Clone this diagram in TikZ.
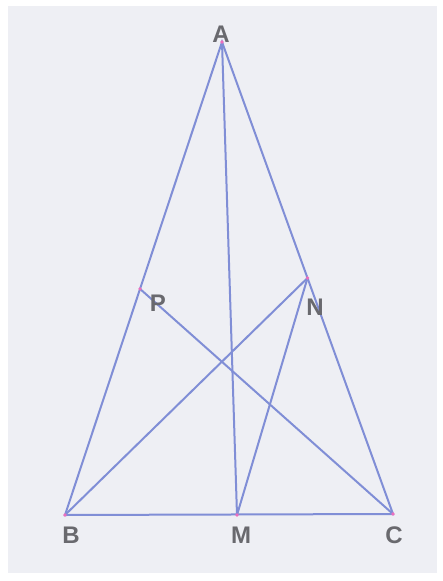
\documentclass[tikz,border=0pt]{standalone}
\usepackage{fontspec}
\setmainfont{Liberation Sans}
\usepackage{xcolor}
\usetikzlibrary{calc}

\definecolor{segblue}{RGB}{128,142,214}
\definecolor{dotpink}{RGB}{236,110,190}
\definecolor{labgrey}{RGB}{105,105,110}
\definecolor{paper}{RGB}{238,239,244}

\begin{document}
\begin{tikzpicture}[x=0.75pt, y=-0.75pt,
  seg/.style={segblue, line width=1.5pt, line cap=round},
  lab/.style={font=\fontsize{18}{20}\selectfont\bfseries, text=labgrey, inner sep=0pt},
  dot/.style={fill=dotpink}]

% Page and scanned background
\useasboundingbox (0, 0) rectangle (442, 581);
\fill[paper] (8, 6) rectangle (437, 573);

% Vertices
\coordinate (A) at (222, 42);
\coordinate (B) at (65, 515);
\coordinate (C) at (393, 514);
\coordinate (M) at (237, 515);
\coordinate (P) at ($(A)!0.522!(B)$);
\coordinate (N) at ($(A)!0.50!(C)$);

% Triangle and cevians
\draw[seg] (A) -- (B) -- (C) -- cycle;
\draw[seg] (A) -- (M);
\draw[seg] (P) -- (C);
\draw[seg] (B) -- (N);
\draw[seg] (N) -- (M);

% Marked points
\foreach \p in {A,B,C,M,P,N}
  \fill[dot] (\p) circle (1.8);

% Labels
\node[lab] (labA) at (221, 34) {A};
\node[lab] (labB) at (71, 535) {B};
\node[lab] (labM) at (241, 535) {M};
\node[lab] (labC) at (394, 535) {C};
\node[lab] (labP) at (158, 303) {P};
\node[lab] (labN) at (315, 307) {N};

\end{tikzpicture}
\end{document}
